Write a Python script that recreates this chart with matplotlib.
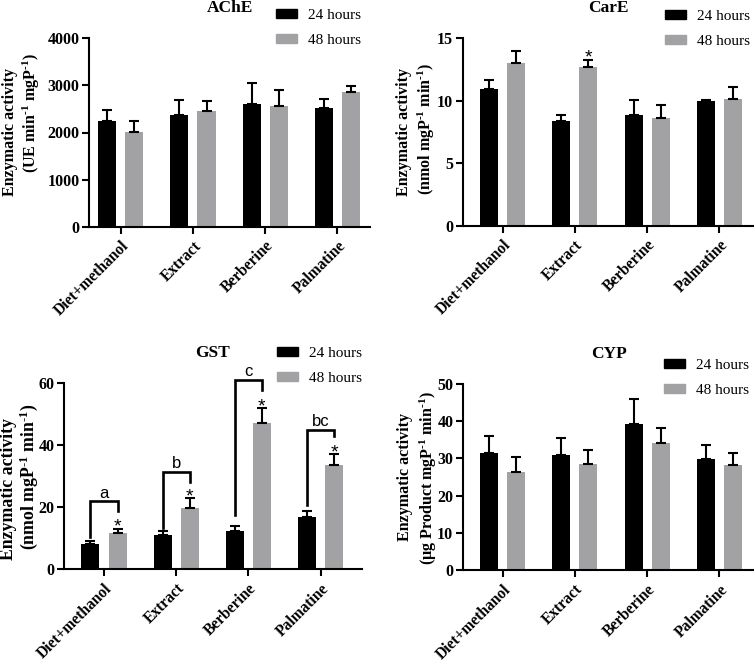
import numpy as np
import matplotlib
matplotlib.use("Agg")
import matplotlib.pyplot as plt
from matplotlib.patches import Patch
from matplotlib.transforms import ScaledTranslation

plt.rcParams["font.family"] = ["Liberation Serif", "DejaVu Serif"]
plt.rcParams["mathtext.fontset"] = "custom"
plt.rcParams["mathtext.rm"] = "Liberation Serif:bold"
plt.rcParams["mathtext.default"] = "rm"

# data (mean, upper SD)
groups = ["Diet+methanol", "Extract", "Berberine", "Palmatine"]

ache_24 = [2250, 2370, 2610, 2510]
ache_24_err = [230, 330, 440, 200]
ache_48 = [2010, 2450, 2560, 2850]
ache_48_err = [230, 210, 350, 130]

care_24 = [10.95, 8.4, 8.9, 10.0]
care_24_err = [0.7, 0.5, 1.15, 0.06]
care_48 = [13.0, 12.7, 8.6, 10.15]
care_48_err = [0.95, 0.6, 1.05, 0.95]
care_48_star = [False, True, False, False]

gst_24 = [8.2, 10.9, 12.4, 16.9]
gst_24_err = [0.85, 1.5, 1.5, 1.9]
gst_48 = [11.8, 19.8, 47.0, 33.5]
gst_48_err = [1.3, 3.2, 4.9, 3.5]
gst_48_star = [True, True, True, True]
gst_letters = ["a", "b", "c", "bc"]
gst_bracket_top = [22.0, 31.4, 61.0, 44.9]
gst_bracket_left = [10.5, 13.3, 17.4, 20.6]
gst_bracket_right = [18.8, 28.2, 57.7, 42.9]

cyp_24 = [31.5, 30.9, 39.2, 29.8]
cyp_24_err = [4.4, 4.5, 6.6, 3.9]
cyp_48 = [26.3, 28.4, 34.2, 28.1]
cyp_48_err = [4.0, 3.9, 4.0, 3.3]

HY = "\u2010"  # short hyphen for the superscript "-1"
ylab_top = "Enzymatic activity"
ache_unit = f"(UE min$^{{{HY}1}}$ mgP$^{{{HY}1}}$)"
nmol_unit = f"(nmol mgP$^{{{HY}1}}$ min$^{{{HY}1}}$)"
cyp_unit = f"(µg Product mgP$^{{{HY}1}}$ min$^{{{HY}1}}$)"

BLACK = "#000000"
GREY = "#a2a2a5"
W, H = 754, 664

fig = plt.figure(figsize=(W / 100, H / 100), dpi=100)
shift_right = ScaledTranslation(4.3 / 72, 0, fig.dpi_scale_trans)


def add_panel(left, right, top, bottom):
    return fig.add_axes([left / W, 1 - bottom / H, (right - left) / W, (bottom - top) / H])


def px_text(x, y, s, **kw):
    fig.text(x / W, 1 - y / H, s, **kw)


def draw_panel(ax, title, v24, e24, v48, e48, ymax, ystep, xlim, leg_xy):
    x = np.arange(len(groups))
    off, bw = 0.1875, 0.25
    ax.bar(x - off, v24, bw, color=BLACK, zorder=2)
    ax.bar(x + off, v48, bw, color=GREY, zorder=2)
    for xs, v, e in [(x - off, v24, e24), (x + off, v48, e48)]:
        ax.errorbar(xs, v, yerr=[np.zeros(len(v)), e], fmt="none", ecolor="black",
                    elinewidth=1.5, capsize=3.6, capthick=1.5, zorder=3)

    ax.set_xlim(*xlim)
    ax.set_ylim(0, ymax)
    ax.set_yticks(np.arange(0, ymax + ystep / 2, ystep))
    ax.set_xticks(x)
    ax.set_xticklabels(groups, rotation=45, ha="right", va="top", rotation_mode="anchor",
                       fontsize=11.2, fontweight="bold")
    for lab in ax.get_xticklabels():
        lab.set_transform(lab.get_transform() + shift_right)
    for lab in ax.get_yticklabels():
        lab.set_fontsize(11.5)
        lab.set_fontweight("bold")
    ax.tick_params(axis="both", width=1.5, length=5, direction="out")
    ax.tick_params(axis="x", pad=3)
    ax.tick_params(axis="y", pad=2)
    for s in ["top", "right"]:
        ax.spines[s].set_visible(False)
    for s in ["left", "bottom"]:
        ax.spines[s].set_linewidth(1.5)

    ax.annotate(title, xy=(0.5, 1), xycoords="axes fraction", xytext=(0, 21.5),
                textcoords="offset points", ha="center", va="center",
                fontsize=12.5, fontweight="bold")

    handles = [Patch(color=BLACK, label="24 hours"), Patch(color=GREY, label="48 hours")]
    ax.legend(handles=handles, loc="upper left", bbox_to_anchor=(leg_xy[0] / W, 1 - leg_xy[1] / H),
              bbox_transform=fig.transFigure, frameon=False, fontsize=11,
              borderpad=0, borderaxespad=0, handlelength=1.4, handleheight=0.5,
              handletextpad=0.7, labelspacing=0.78)
    return x, off


def add_star(ax, xs, ytop):
    ax.annotate("*", xy=(xs, ytop), xytext=(0, -2.3), textcoords="offset points",
                ha="center", va="baseline", fontsize=14, family="Liberation Sans",
                annotation_clip=False)


def add_ylabel(line1_xy, line2_xy, unit, size):
    kw = dict(rotation=90, ha="center", va="center", fontweight="bold", fontsize=size)
    px_text(*line1_xy, ylab_top, **kw)
    px_text(*line2_xy, unit, **kw)


# AChE
ax1 = add_panel(89.3, 370, 38.3, 226.7)
draw_panel(ax1, "AChE", ache_24, ache_24_err, ache_48, ache_48_err, 4000, 1000,
           (-0.435, 3.45), (276, 9))
add_ylabel((10, 131.7), (31.7, 113.5), ache_unit, 11.5)

# CarE
ax2 = add_panel(463, 754, 38.3, 225.7)
x2, off = draw_panel(ax2, "CarE", care_24, care_24_err, care_48, care_48_err, 15, 5,
                     (-0.55, 3.48), (665, 10))
add_ylabel((404.5, 131.7), (426.5, 129), nmol_unit, 11.5)
for i, s in enumerate(care_48_star):
    if s:
        add_star(ax2, x2[i] + off, care_48[i] + care_48_err[i])

# GST
ax3 = add_panel(64.3, 361.7, 383, 569.3)
x3, off = draw_panel(ax3, "GST", gst_24, gst_24_err, gst_48, gst_48_err, 60, 20,
                     (-0.55, 3.57), (277, 347))
add_ylabel((9, 489.5), (28.5, 477), nmol_unit, 12.8)
for i in range(len(groups)):
    if gst_48_star[i]:
        add_star(ax3, x3[i] + off, gst_48[i] + gst_48_err[i])
    xl, xr = x3[i] - off, x3[i] + off
    ax3.plot([xl, xl, xr, xr],
             [gst_bracket_left[i], gst_bracket_top[i], gst_bracket_top[i], gst_bracket_right[i]],
             color="black", lw=1.9, clip_on=False, zorder=4, solid_joinstyle="miter")
    ax3.annotate(gst_letters[i], xy=(x3[i], gst_bracket_top[i]), xytext=(0, 2.5),
                 textcoords="offset points", ha="center", va="baseline",
                 fontsize=12, family="Liberation Sans", annotation_clip=False)

# CYP
ax4 = add_panel(463, 754, 383.7, 570.3)
draw_panel(ax4, "CYP", cyp_24, cyp_24_err, cyp_48, cyp_48_err, 50, 10,
           (-0.55, 3.48), (664, 359))
add_ylabel((405, 477), (428, 478), cyp_unit, 11.5)

fig.savefig("out.png", dpi=100)
